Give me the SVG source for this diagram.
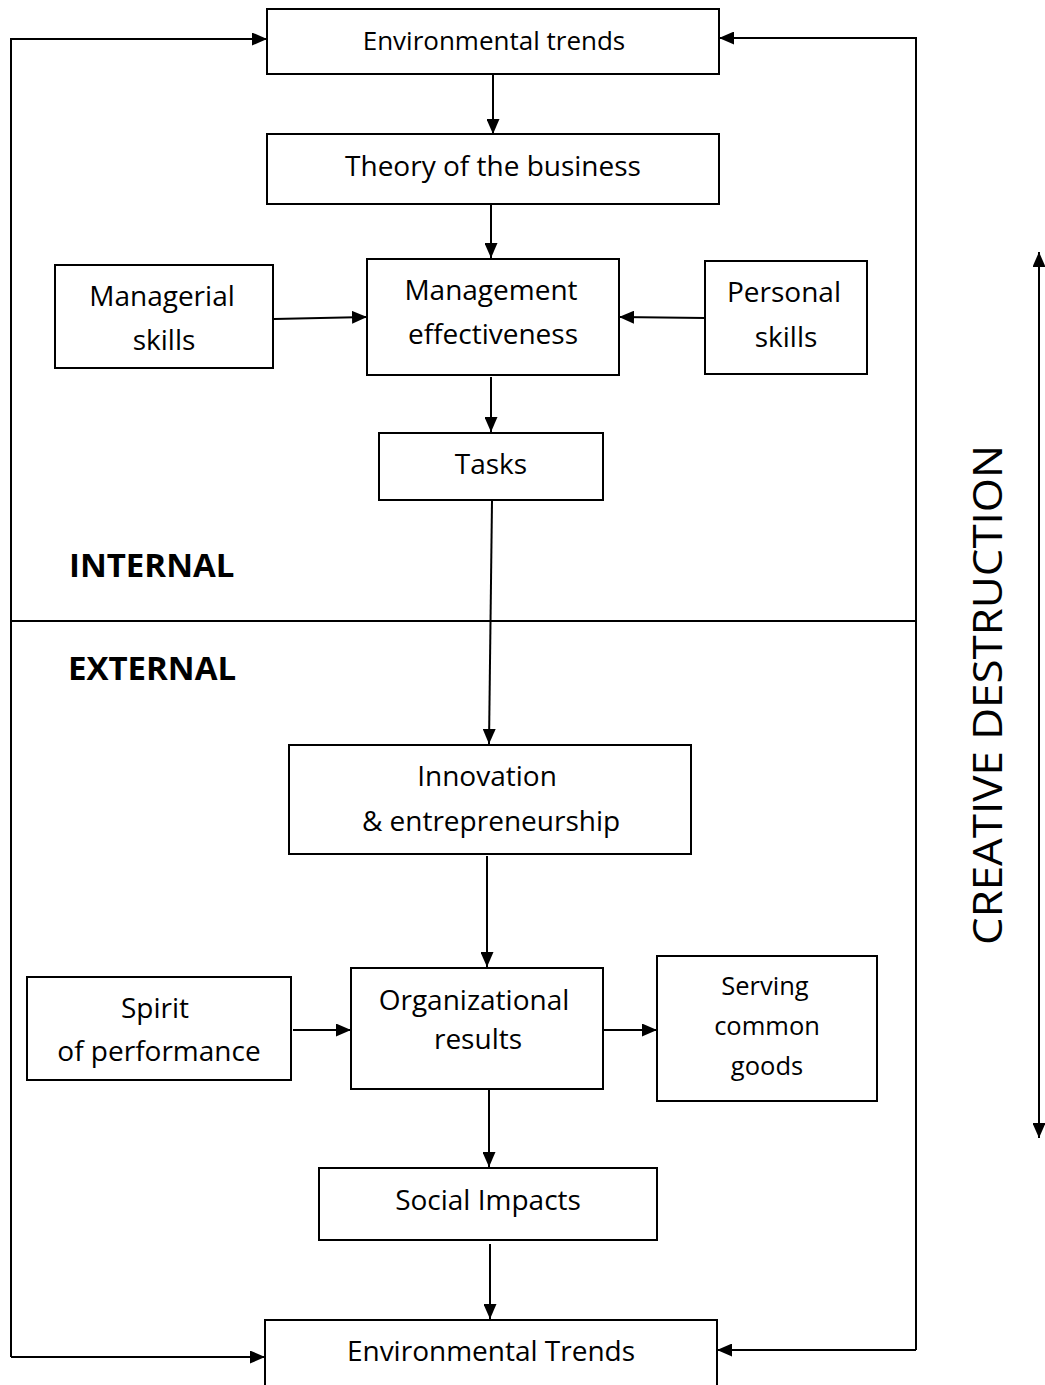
<svg xmlns="http://www.w3.org/2000/svg" width="1045" height="1385" viewBox="0 0 1045 1385">
<defs>
<marker id="ah" viewBox="0 0 15 13" refX="15" refY="6.5" markerWidth="15" markerHeight="13" markerUnits="userSpaceOnUse" orient="auto-start-reverse">
<path d="M0,0 L15,6.5 L0,13 Z" fill="#000"/>
</marker>
</defs>
<style>
rect{fill:#fff;stroke:#000;stroke-width:2}
text{font-family:"Open Sans","Noto Sans","Liberation Sans",sans-serif;fill:#000;text-anchor:middle}
.t{font-size:28px}
.s{font-size:25.5px}
.e{font-size:26px}
.b{font-size:33px;font-weight:bold;text-anchor:start}
.c line,.c path{stroke:#000;stroke-width:2;fill:none}
.a{marker-end:url(#ah)}
</style>
<rect x="0" y="0" width="1045" height="1385" style="stroke:none"/>
<g class="c" id="connectors">
<path class="a" d="M11,1357 L11,39 L267,39"/>
<path class="a" d="M11,1357 L265,1357"/>
<path class="a" d="M916,1350 L916,38 L719,38"/>
<path class="a" d="M916,1350 L717,1350"/>
<line x1="11" y1="621" x2="916" y2="621"/>
<line class="a" x1="493" y1="74" x2="493" y2="134"/>
<line class="a" x1="491" y1="205" x2="491" y2="258"/>
<line class="a" x1="274" y1="319" x2="367" y2="317"/>
<line class="a" x1="705" y1="318" x2="619" y2="317"/>
<line class="a" x1="491" y1="377" x2="491" y2="432"/>
<line class="a" x1="492" y1="501" x2="489" y2="744"/>
<line class="a" x1="487" y1="856" x2="487" y2="967"/>
<line class="a" x1="293" y1="1030" x2="351" y2="1030"/>
<line class="a" x1="604" y1="1030" x2="657" y2="1030"/>
<line class="a" x1="489" y1="1090" x2="489" y2="1167"/>
<line class="a" x1="490" y1="1244" x2="490" y2="1319"/>
<line class="a" x1="1039" y1="700" x2="1039" y2="252"/>
<line class="a" x1="1039" y1="700" x2="1039" y2="1138"/>
</g>
<g id="env-top"><rect x="267" y="9" width="452" height="65"/><text class="e" x="494" y="50">Environmental trends</text></g>
<g id="theory"><rect x="267" y="134" width="452" height="70"/><text class="t" x="493" y="176">Theory of the business</text></g>
<g id="managerial"><rect x="55" y="265" width="218" height="103"/><text class="t" x="162" y="306">Managerial</text><text class="t" x="164" y="350">skills</text></g>
<g id="mgmt-eff"><rect x="367" y="259" width="252" height="116"/><text class="t" x="491" y="300">Management</text><text class="t" x="493" y="344">effectiveness</text></g>
<g id="personal"><rect x="705" y="261" width="162" height="113"/><text class="t" x="784" y="302">Personal</text><text class="t" x="786" y="347">skills</text></g>
<g id="tasks"><rect x="379" y="433" width="224" height="67"/><text class="t" x="491" y="474">Tasks</text></g>
<g id="internal"><text class="b" x="69" y="577">INTERNAL</text></g>
<g id="external"><text class="b" x="68" y="680">EXTERNAL</text></g>
<g id="innovation"><rect x="289" y="745" width="402" height="109"/><text class="t" x="487" y="786">Innovation</text><text class="t" x="491" y="831">&amp; entrepreneurship</text></g>
<g id="org-results"><rect x="351" y="968" width="252" height="121"/><text class="t" x="474" y="1010">Organizational</text><text class="t" x="478" y="1049">results</text></g>
<g id="spirit"><rect x="27" y="977" width="264" height="103"/><text class="t" x="155" y="1018">Spirit</text><text class="t" x="159" y="1061">of performance</text></g>
<g id="serving"><rect x="657" y="956" width="220" height="145"/><text class="s" x="765" y="995">Serving</text><text class="s" x="767" y="1035">common</text><text class="s" x="767" y="1075">goods</text></g>
<g id="social"><rect x="319" y="1168" width="338" height="72"/><text class="t" x="488" y="1210">Social Impacts</text></g>
<g id="env-bottom"><rect x="265" y="1320" width="452" height="80"/><text class="t" x="491" y="1361">Environmental Trends</text></g>
<g id="creative"><text transform="translate(1002,695) rotate(-90)" style="font-size:40px" x="0" y="0" textLength="500" lengthAdjust="spacingAndGlyphs">CREATIVE DESTRUCTION</text></g>
</svg>
